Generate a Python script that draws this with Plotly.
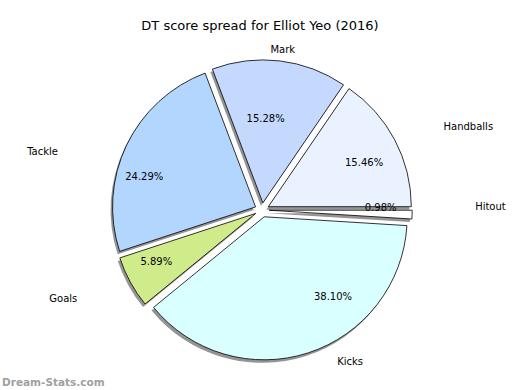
import plotly.graph_objects as go

labels = ["Hitout", "Handballs", "Mark", "Tackle", "Goals", "Kicks"]
values = [0.98, 15.46, 15.28, 24.29, 5.89, 38.10]
colors = ["#FFFFFF", "#EBF2FF", "#C5D9FF", "#B3D6FF", "#D0EB8A", "#DAFFFF"]

# ---- styling (explode and text placement), not data ----
W, H = 520, 390
cx, cy, R = 262, 210, 143
slice_pull = 0.05
# per-slice (pull, dx, dy) of the text layers: the reference pie is an ellipse,
# so the circular Plotly pie gets its texts nudged outward horizontally
label_style = {"Hitout": (0.255, 31, -9), "Handballs": (0.2, 27, -2), "Mark": (0.04, -12, -7),
               "Tackle": (0.15, -53, 14), "Goals": (0.22, -29, 3), "Kicks": (0.08, 25, 0)}
pct_style = {"Hitout": (0.0, -20, -7), "Handballs": (0.07, 7, 3), "Mark": (0.0, -8, 6),
             "Tackle": (0.159, -21, 13), "Goals": (0.03, 4, -9), "Kicks": (0.21, 39, -13)}
FONT = dict(family="DejaVu Sans", size=10, color="black")
clear = ["rgba(0,0,0,0)"] * len(values)


def dom(maxpull, dx=0, dy=0):
    half = R * (1 + maxpull)
    x0, x1 = (cx + dx - half) / W, (cx + dx + half) / W
    y0, y1 = (H - cy - dy - half) / H, (H - cy - dy + half) / H
    return dict(x=[max(0, x0), min(1, x1)], y=[max(0, y0), min(1, y1)])


common = dict(labels=labels, values=values, sort=False, direction="counterclockwise",
              rotation=90, hoverinfo="skip", showlegend=False, automargin=False)

fig = go.Figure()
# shadow
fig.add_trace(go.Pie(**common, pull=slice_pull, domain=dom(slice_pull, -2, 3),
                     marker=dict(colors=["rgba(0,0,0,0.42)"] * len(values), line=dict(width=0)),
                     textinfo="none"))
# slices
fig.add_trace(go.Pie(**common, pull=slice_pull, domain=dom(slice_pull),
                     marker=dict(colors=colors, line=dict(color="black", width=0.8)),
                     textinfo="none"))

# percentage texts (inside) and category labels (outside)
for name in labels:
    for style, tmpl, pos in ((pct_style, "%{percent:.2%}", "inside"),
                             (label_style, "%{label}", "outside")):
        p, dx, dy = style[name]
        pulls = [p if l == name else 0 for l in labels]
        temps = [tmpl if l == name else "" for l in labels]
        fig.add_trace(go.Pie(**common, pull=pulls, domain=dom(p, dx, dy),
                             marker=dict(colors=clear, line=dict(width=0)),
                             texttemplate=temps, textposition=pos,
                             insidetextorientation="horizontal",
                             insidetextfont=FONT, outsidetextfont=FONT))

fig.update_layout(
    width=W, height=H,
    margin=dict(l=0, r=0, t=0, b=0, pad=0, autoexpand=False),
    paper_bgcolor="white", plot_bgcolor="white",
    title=dict(text="DT score spread for Elliot Yeo (2016)", x=0.5, xanchor="center",
               y=1 - 25 / H, yanchor="middle", yref="container",
               font=dict(family="DejaVu Sans", size=13, color="black")),
    uniformtext=dict(minsize=10, mode="show"),
    showlegend=False,
    annotations=[dict(text="<b>Dream-Stats.com</b>", x=0, y=0, xref="paper", yref="paper",
                      xanchor="left", yanchor="bottom", showarrow=False,
                      font=dict(family="DejaVu Sans", size=10.5, color="#A0A0A0"))],
)

fig.write_html("out.html", config={"displayModeBar": False},
               post_script="document.body.style.margin='0';")
